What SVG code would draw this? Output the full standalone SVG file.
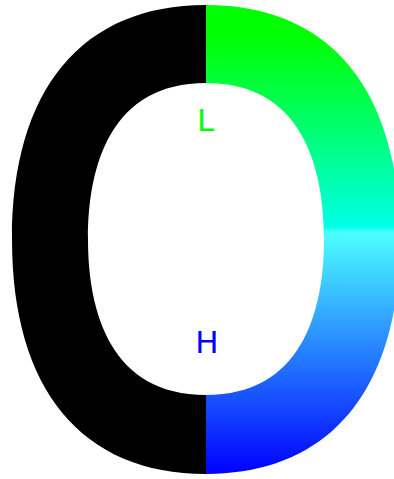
<svg xmlns="http://www.w3.org/2000/svg" width="394" height="479" viewBox="0 0 394 479">
  <style>
    .lbl { font-family: "DejaVu Sans", "Liberation Sans", sans-serif; font-size: 31px; }
  </style>
  <defs>
    <linearGradient id="hue" gradientUnits="userSpaceOnUse" x1="0" y1="5" x2="0" y2="474">
      <stop offset="0" stop-color="#00ff00"/>
      <stop offset="0.08" stop-color="#00ff08"/>
      <stop offset="0.472" stop-color="#00ffe6"/>
      <stop offset="0.486" stop-color="#4cffff"/>
      <stop offset="1" stop-color="#0000ff"/>
    </linearGradient>
  </defs>
  <rect width="394" height="479" fill="#ffffff"/>
  <g id="ring-left">
    <path fill="#000000" d="M206,5 C81.84,5 12,89.42 12,239.5 C12,389.58 81.84,474 206,474 L206,395 C111.6,395 88,313.9 88,239 C88,164.1 111.6,83 206,83 Z"/>
  </g>
  <g id="ring-right">
    <path fill="url(#hue)" d="M206,5 C330.16,5 400,89.42 400,239.5 C400,389.58 330.16,474 206,474 L206,395 C300.4,395 324,313.9 324,239 C324,164.1 300.4,83 206,83 Z"/>
  </g>
  <g id="label-L">
    <text class="lbl" x="197" y="131" fill="#00ff00">L</text>
  </g>
  <g id="label-H">
    <text class="lbl" x="195.3" y="353" fill="#0000ff">H</text>
  </g>
</svg>
